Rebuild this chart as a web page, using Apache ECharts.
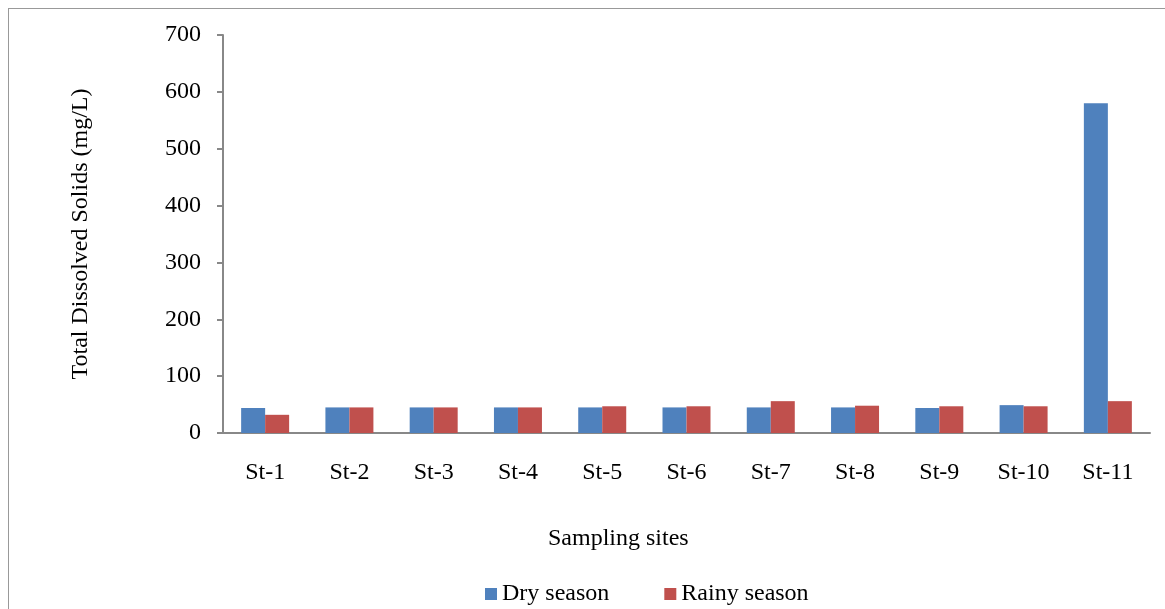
<!DOCTYPE html>
<html><head><meta charset="utf-8">
<script src="https://cdn.jsdelivr.net/npm/echarts@6/dist/echarts.min.js"></script>
<style>html,body{margin:0;padding:0;background:#fff}#c{width:1165px;height:609px}
#f{position:absolute;left:8px;top:8px;width:1170px;height:620px;border:1.5px solid #999;pointer-events:none}</style>
</head><body><div id="c"></div><div id="f"></div>
<script>
const categories=['St-1','St-2','St-3','St-4','St-5','St-6','St-7','St-8','St-9','St-10','St-11'];
const drySeason=[44,45,45,45,45,45,45,45,44,49,580];
const rainySeason=[32,45,45,45,47,47,56,48,47,47,56];
const font='Liberation Serif';
const chart=echarts.init(document.getElementById('c'));
chart.setOption({
  animation:false,
  textStyle:{fontFamily:font,color:'#000'},
  grid:{left:223,right:15,top:35,bottom:176},
  title:{text:'Sampling sites',left:543,top:522,textStyle:{fontFamily:font,fontSize:24,fontWeight:'normal',color:'#000'}},
  legend:{bottom:-2,left:480,itemWidth:12,itemHeight:12,itemGap:55,icon:'rect',
    textStyle:{fontFamily:font,fontSize:24,color:'#000'},data:['Dry season','Rainy season']},
  xAxis:{type:'category',data:categories,
    axisLine:{lineStyle:{color:'#888',width:2}},axisTick:{length:18,lineStyle:{color:'#888',width:2}},
    axisLabel:{fontFamily:font,fontSize:24,color:'#000',margin:28}},
  yAxis:{type:'value',min:0,max:700,interval:100,name:'Total Dissolved Solids (mg/L)',nameLocation:'middle',nameGap:130,
    nameTextStyle:{fontFamily:font,fontSize:24,color:'#000'},
    axisLine:{show:true,lineStyle:{color:'#888',width:2}},axisTick:{show:true,length:6,lineStyle:{color:'#888',width:2}},
    splitLine:{show:false},axisLabel:{fontFamily:font,fontSize:24,color:'#000',margin:22}},
  series:[
    {name:'Dry season',type:'bar',data:drySeason,barWidth:24,barGap:'0%',itemStyle:{color:'#4f81bd'}},
    {name:'Rainy season',type:'bar',data:rainySeason,barWidth:24,itemStyle:{color:'#c0504d'}}
  ]
});
</script></body></html>
